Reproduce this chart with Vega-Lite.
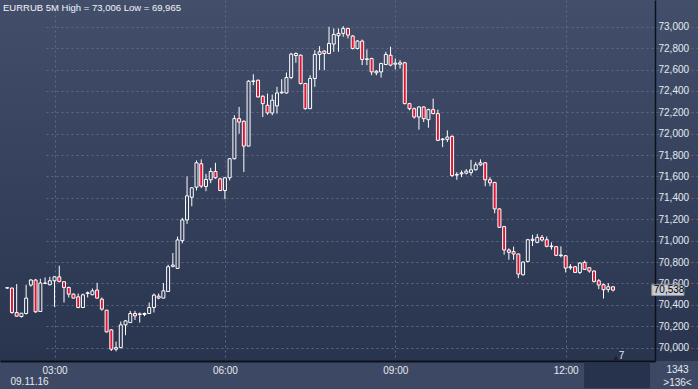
{
  "$schema": "https://vega.github.io/schema/vega-lite/v6.json",
  "width": 698,
  "height": 361,
  "autosize": {"type": "none"},
  "padding": {"left": 0, "top": 0, "right": 0, "bottom": 28},
  "background": "#3d4964",
  "config": {
    "font": "Liberation Sans",
    "view": {
      "stroke": null,
      "fill": {"gradient": "linear", "x1": 0, "y1": 0, "x2": 0, "y2": 1,
        "stops": [{"offset": 0, "color": "#434f6a"}, {"offset": 1, "color": "#29344f"}]}
    }
  },
  "title": {
    "text": "EURRUB 5M High = 73,006 Low = 69,965",
    "anchor": "start", "frame": "group", "offset": -12, "dx": 3,
    "fontSize": 9.5, "fontWeight": "normal", "color": "#f2f4f8", "font": "Liberation Sans"
  },
  "data": {
    "format": {"parse": {"t": "utc:'%H:%M'"}},
    "values": [
      {"t":"02:10","o":70560,"h":70566,"l":70550,"c":70557},
      {"t":"02:15","o":70557,"h":70560,"l":70316,"c":70328},
      {"t":"02:20","o":70328,"h":70594,"l":70290,"c":70294},
      {"t":"02:25","o":70291,"h":70322,"l":70281,"c":70322},
      {"t":"02:30","o":70319,"h":70588,"l":70310,"c":70463},
      {"t":"02:35","o":70585,"h":70641,"l":70569,"c":70632},
      {"t":"02:40","o":70632,"h":70641,"l":70325,"c":70335},
      {"t":"02:45","o":70338,"h":70644,"l":70338,"c":70604},
      {"t":"02:50","o":70604,"h":70656,"l":70594,"c":70600},
      {"t":"02:55","o":70588,"h":70662,"l":70581,"c":70625},
      {"t":"03:00","o":70625,"h":70666,"l":70381,"c":70662},
      {"t":"03:05","o":70662,"h":70766,"l":70610,"c":70619},
      {"t":"03:10","o":70616,"h":70619,"l":70422,"c":70563},
      {"t":"03:15","o":70563,"h":70569,"l":70469,"c":70500},
      {"t":"03:20","o":70500,"h":70506,"l":70460,"c":70463},
      {"t":"03:25","o":70475,"h":70506,"l":70369,"c":70375},
      {"t":"03:30","o":70375,"h":70506,"l":70375,"c":70494},
      {"t":"03:35","o":70506,"h":70525,"l":70469,"c":70513},
      {"t":"03:40","o":70494,"h":70553,"l":70491,"c":70531},
      {"t":"03:45","o":70538,"h":70606,"l":70460,"c":70463},
      {"t":"03:50","o":70453,"h":70469,"l":70344,"c":70360},
      {"t":"03:55","o":70350,"h":70353,"l":70141,"c":70147},
      {"t":"04:00","o":70166,"h":70172,"l":69969,"c":69985},
      {"t":"04:05","o":69985,"h":70056,"l":69965,"c":70000},
      {"t":"04:10","o":70000,"h":70244,"l":69994,"c":70213},
      {"t":"04:15","o":70213,"h":70256,"l":70116,"c":70250},
      {"t":"04:20","o":70234,"h":70344,"l":70234,"c":70319},
      {"t":"04:25","o":70319,"h":70344,"l":70259,"c":70297},
      {"t":"04:30","o":70310,"h":70328,"l":70234,"c":70316},
      {"t":"04:35","o":70310,"h":70328,"l":70294,"c":70319},
      {"t":"04:40","o":70319,"h":70422,"l":70319,"c":70375},
      {"t":"04:45","o":70375,"h":70506,"l":70328,"c":70491},
      {"t":"04:50","o":70481,"h":70506,"l":70453,"c":70463},
      {"t":"04:55","o":70463,"h":70604,"l":70463,"c":70531},
      {"t":"05:00","o":70525,"h":70775,"l":70525,"c":70756},
      {"t":"05:05","o":70760,"h":70885,"l":70750,"c":70772},
      {"t":"05:10","o":70741,"h":71038,"l":70735,"c":71007},
      {"t":"05:15","o":71000,"h":71213,"l":70975,"c":71194},
      {"t":"05:20","o":71194,"h":71600,"l":71157,"c":71419},
      {"t":"05:25","o":71406,"h":71500,"l":71322,"c":71494},
      {"t":"05:30","o":71500,"h":71750,"l":71469,"c":71728},
      {"t":"05:35","o":71719,"h":71760,"l":71491,"c":71510},
      {"t":"05:40","o":71506,"h":71625,"l":71463,"c":71572},
      {"t":"05:45","o":71569,"h":71681,"l":71538,"c":71647},
      {"t":"05:50","o":71647,"h":71728,"l":71578,"c":71588},
      {"t":"05:55","o":71578,"h":71588,"l":71463,"c":71469},
      {"t":"06:00","o":71469,"h":71594,"l":71388,"c":71588},
      {"t":"06:05","o":71588,"h":71772,"l":71563,"c":71766},
      {"t":"06:10","o":71766,"h":72172,"l":71760,"c":72141},
      {"t":"06:15","o":72141,"h":72250,"l":72000,"c":72109},
      {"t":"06:20","o":72116,"h":72125,"l":71641,"c":71884},
      {"t":"06:25","o":71884,"h":72500,"l":71884,"c":72491},
      {"t":"06:30","o":72488,"h":72556,"l":72453,"c":72494},
      {"t":"06:35","o":72500,"h":72506,"l":72338,"c":72344},
      {"t":"06:40","o":72350,"h":72360,"l":72156,"c":72281},
      {"t":"06:45","o":72266,"h":72375,"l":72178,"c":72194},
      {"t":"06:50","o":72194,"h":72366,"l":72172,"c":72313},
      {"t":"06:55","o":72260,"h":72438,"l":72188,"c":72381},
      {"t":"07:00","o":72381,"h":72509,"l":72375,"c":72388},
      {"t":"07:05","o":72381,"h":72572,"l":72375,"c":72525},
      {"t":"07:10","o":72525,"h":72756,"l":72510,"c":72744},
      {"t":"07:15","o":72731,"h":72760,"l":72663,"c":72750},
      {"t":"07:20","o":72734,"h":72740,"l":72460,"c":72469},
      {"t":"07:25","o":72469,"h":72475,"l":72225,"c":72234},
      {"t":"07:30","o":72234,"h":72547,"l":72234,"c":72516},
      {"t":"07:35","o":72516,"h":72781,"l":72438,"c":72741},
      {"t":"07:40","o":72741,"h":72819,"l":72594,"c":72766},
      {"t":"07:45","o":72772,"h":72781,"l":72594,"c":72750},
      {"t":"07:50","o":72750,"h":73000,"l":72744,"c":72844},
      {"t":"07:55","o":72838,"h":72984,"l":72766,"c":72928},
      {"t":"08:00","o":72916,"h":72984,"l":72766,"c":72938},
      {"t":"08:05","o":72938,"h":73006,"l":72906,"c":72984},
      {"t":"08:10","o":72984,"h":72990,"l":72891,"c":72922},
      {"t":"08:15","o":72913,"h":72922,"l":72788,"c":72797},
      {"t":"08:20","o":72797,"h":72875,"l":72788,"c":72866},
      {"t":"08:25","o":72866,"h":72880,"l":72641,"c":72694},
      {"t":"08:30","o":72700,"h":72788,"l":72641,"c":72694},
      {"t":"08:35","o":72703,"h":72710,"l":72547,"c":72578},
      {"t":"08:40","o":72584,"h":72594,"l":72547,"c":72569},
      {"t":"08:45","o":72578,"h":72663,"l":72525,"c":72656},
      {"t":"08:50","o":72647,"h":72766,"l":72641,"c":72741},
      {"t":"08:55","o":72734,"h":72813,"l":72631,"c":72641},
      {"t":"09:00","o":72650,"h":72703,"l":72600,"c":72660},
      {"t":"09:05","o":72650,"h":72688,"l":72609,"c":72663},
      {"t":"09:10","o":72663,"h":72672,"l":72275,"c":72281},
      {"t":"09:15","o":72281,"h":72288,"l":72219,"c":72234},
      {"t":"09:20","o":72234,"h":72244,"l":72141,"c":72156},
      {"t":"09:25","o":72156,"h":72256,"l":72038,"c":72250},
      {"t":"09:30","o":72250,"h":72256,"l":72109,"c":72141},
      {"t":"09:35","o":72131,"h":72234,"l":72056,"c":72225},
      {"t":"09:40","o":72225,"h":72328,"l":72181,"c":72188},
      {"t":"09:45","o":72188,"h":72225,"l":71931,"c":71938},
      {"t":"09:50","o":71950,"h":71960,"l":71875,"c":71944},
      {"t":"09:55","o":71947,"h":72031,"l":71922,"c":71969},
      {"t":"10:00","o":71975,"h":71985,"l":71594,"c":71609},
      {"t":"10:05","o":71613,"h":71640,"l":71569,"c":71619},
      {"t":"10:10","o":71625,"h":71656,"l":71594,"c":71634},
      {"t":"10:15","o":71631,"h":71669,"l":71619,"c":71650},
      {"t":"10:20","o":71638,"h":71756,"l":71609,"c":71663},
      {"t":"10:25","o":71663,"h":71734,"l":71656,"c":71709},
      {"t":"10:30","o":71709,"h":71760,"l":71700,"c":71728},
      {"t":"10:35","o":71728,"h":71734,"l":71509,"c":71569},
      {"t":"10:40","o":71569,"h":71594,"l":71509,"c":71541},
      {"t":"10:45","o":71544,"h":71550,"l":71256,"c":71297},
      {"t":"10:50","o":71297,"h":71303,"l":71119,"c":71125},
      {"t":"10:55","o":71131,"h":71138,"l":70869,"c":70913},
      {"t":"11:00","o":70913,"h":70928,"l":70822,"c":70891},
      {"t":"11:05","o":70897,"h":70944,"l":70822,"c":70875},
      {"t":"11:10","o":70875,"h":70881,"l":70650,"c":70688},
      {"t":"11:15","o":70681,"h":70806,"l":70675,"c":70800},
      {"t":"11:20","o":70806,"h":71016,"l":70797,"c":71009},
      {"t":"11:25","o":71003,"h":71056,"l":70950,"c":71013},
      {"t":"11:30","o":70984,"h":71063,"l":70975,"c":71031},
      {"t":"11:35","o":71031,"h":71053,"l":70994,"c":71006},
      {"t":"11:40","o":71009,"h":71038,"l":70938,"c":70947},
      {"t":"11:45","o":70950,"h":70984,"l":70916,"c":70944},
      {"t":"11:50","o":70944,"h":70950,"l":70856,"c":70863},
      {"t":"11:55","o":70866,"h":70947,"l":70844,"c":70860},
      {"t":"12:00","o":70859,"h":70866,"l":70703,"c":70744},
      {"t":"12:05","o":70756,"h":70781,"l":70728,"c":70747},
      {"t":"12:10","o":70756,"h":70763,"l":70700,"c":70703},
      {"t":"12:15","o":70703,"h":70797,"l":70688,"c":70791},
      {"t":"12:20","o":70797,"h":70813,"l":70728,"c":70731},
      {"t":"12:25","o":70747,"h":70750,"l":70700,"c":70716},
      {"t":"12:30","o":70716,"h":70722,"l":70609,"c":70619},
      {"t":"12:35","o":70625,"h":70641,"l":70547,"c":70585},
      {"t":"12:40","o":70588,"h":70600,"l":70459,"c":70541},
      {"t":"12:45","o":70544,"h":70604,"l":70516,"c":70569},
      {"t":"12:50","o":70569,"h":70572,"l":70525,"c":70538}
    ]
  },
  "layer": [
    {
      "mark": {"type": "rule", "color": "#ffffff", "strokeWidth": 1},
      "encoding": {
        "x": {
          "field": "t", "type": "temporal",
          "scale": {"type": "utc", "range": [0, 655],
            "domain": [
              {"utc": true, "year": 1900, "month": 1, "date": 1, "hours": 2, "minutes": 7, "seconds": 40},
              {"utc": true, "year": 1900, "month": 1, "date": 1, "hours": 13, "minutes": 29, "seconds": 6}
            ]},
          "axis": {
            "values": [
              {"utc": true, "year": 1900, "month": 1, "date": 1, "hours": 3},
              {"utc": true, "year": 1900, "month": 1, "date": 1, "hours": 6},
              {"utc": true, "year": 1900, "month": 1, "date": 1, "hours": 9},
              {"utc": true, "year": 1900, "month": 1, "date": 1, "hours": 12}
            ],
            "format": "%H:%M",
            "grid": true, "gridDash": [2, 3], "gridColor": "#5d6985", "gridWidth": 1,
            "domain": true, "domainColor": "#0c101a", "domainWidth": 2,
            "ticks": false, "tickSize": 0,
            "labelPadding": 4, "labelFontSize": 10, "labelColor": "#e6e9ef",
            "labelFont": "Liberation Sans",
            "title": "09.11.16", "titleFontSize": 10, "titleFontWeight": "normal",
            "titleColor": "#e6e9ef", "titleFont": "Liberation Sans",
            "titleX": 10, "titleY": 15, "titleAlign": "left", "titleBaseline": "top"
          }
        },
        "y": {
          "field": "l", "type": "quantitative",
          "scale": {"domain": [69875, 73250], "nice": false, "zero": false},
          "axis": {
            "orient": "right", "offset": -43,
            "values": [70000, 70200, 70400, 70600, 70800, 71000, 71200, 71400, 71600, 71800, 72000, 72200, 72400, 72600, 72800, 73000],
            "tickCount": 20,
            "labelExpr": "datum.value > 73100 ? '' : replace(format(datum.value / 1000, '.3f'), '.', ',')",
            "labelOverlap": false,
            "grid": true, "gridDash": [2, 3],
            "gridColor": {"expr": "datum.value > 73100 ? 'transparent' : '#5d6985'"},
            "gridWidth": 1,
            "domain": true, "domainColor": "#0c101a", "domainWidth": 1.5,
            "ticks": false, "tickSize": 0,
            "labelPadding": 3, "labelFontSize": 10, "labelColor": "#e6e9ef",
            "labelFont": "Liberation Sans",
            "title": ["1343", ">136<"], "titleAngle": 0, "titleFontSize": 10,
            "titleFontWeight": "normal", "titleColor": "#e6e9ef", "titleFont": "Liberation Sans",
            "titleX": 22, "titleY": 364, "titleAlign": "center", "titleBaseline": "top",
            "titleLineHeight": 13
          }
        },
        "y2": {"field": "h"}
      }
    },
    {
      "mark": {"type": "bar", "width": 3, "stroke": "#ffffff", "strokeWidth": 1},
      "encoding": {
        "x": {"field": "t", "type": "temporal"},
        "y": {"field": "o", "type": "quantitative"},
        "y2": {"field": "c"},
        "fill": {
          "condition": {"test": "datum.o > datum.c", "value": "#e01432"},
          "field": "c", "type": "quantitative",
          "scale": {"domain": [69875, 73250], "range": ["#29344f", "#434f6a"]},
          "legend": null
        }
      }
    },
    {
      "data": {"values": [{}]},
      "mark": {"type": "rect", "fill": "#27324c"},
      "encoding": {
        "x": {"datum": {"utc": true, "year": 1900, "month": 1, "date": 1, "hours": 12, "minutes": 19, "seconds": 30}, "type": "temporal"},
        "x2": {"datum": {"utc": true, "year": 1900, "month": 1, "date": 1, "hours": 13, "minutes": 29, "seconds": 6}},
        "y": {"datum": 69862, "type": "quantitative"},
        "y2": {"datum": 69620}
      }
    },
    {
      "data": {"values": [{}]},
      "mark": {"type": "point", "shape": "triangle-up", "size": 22, "filled": true, "color": "#1a2030", "opacity": 1},
      "encoding": {
        "x": {"datum": {"utc": true, "year": 1900, "month": 1, "date": 1, "hours": 12, "minutes": 53}, "type": "temporal"},
        "y": {"datum": 69905, "type": "quantitative"}
      }
    },
    {
      "data": {"values": [{}]},
      "mark": {"type": "text", "align": "left", "baseline": "middle", "fontSize": 10, "color": "#e6e9ef", "font": "Liberation Sans"},
      "encoding": {
        "x": {"datum": {"utc": true, "year": 1900, "month": 1, "date": 1, "hours": 12, "minutes": 56}, "type": "temporal"},
        "y": {"datum": 69918, "type": "quantitative"},
        "text": {"value": "7"}
      }
    },
    {
      "data": {"values": [{}]},
      "mark": {"type": "rect", "fill": "#c9ccd2", "stroke": "#8d939e", "strokeWidth": 1},
      "encoding": {
        "x": {"datum": {"utc": true, "year": 1900, "month": 1, "date": 1, "hours": 13, "minutes": 31}, "type": "temporal"},
        "x2": {"datum": {"utc": true, "year": 1900, "month": 1, "date": 1, "hours": 14, "minutes": 5}},
        "y": {"datum": 70587, "type": "quantitative"},
        "y2": {"datum": 70487}
      }
    },
    {
      "data": {"values": [{}]},
      "mark": {"type": "text", "align": "left", "baseline": "middle", "fontSize": 10, "color": "#000000", "font": "Liberation Sans", "dx": 2},
      "encoding": {
        "x": {"datum": {"utc": true, "year": 1900, "month": 1, "date": 1, "hours": 13, "minutes": 31}, "type": "temporal"},
        "y": {"datum": 70538, "type": "quantitative"},
        "text": {"value": "70,538"}
      }
    }
  ]
}
